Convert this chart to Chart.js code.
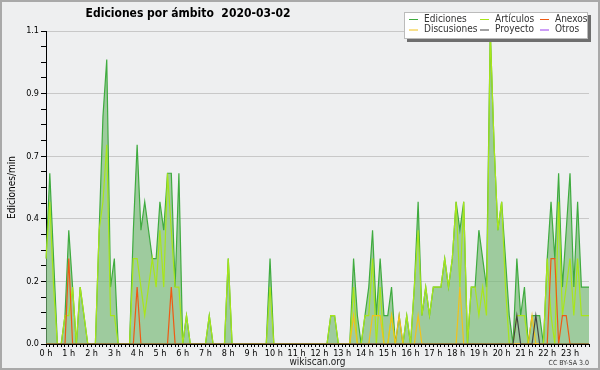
<!DOCTYPE html>
<html>
<head>
<meta charset="utf-8">
<title>Ediciones por ámbito 2020-03-02</title>
<script src="https://cdn.jsdelivr.net/npm/chart.js@4.4.1/dist/chart.umd.min.js"></script>
<style>
  body { margin: 0; background: #eeeff0; }
  canvas { display: block; }
</style>
</head>
<body>
<canvas id="myChart" width="600" height="370"></canvas>
<script>
// one point every 10 minutes, 6 per hour
const HOURS = ["0 h", "1 h", "2 h", "3 h", "4 h", "5 h", "6 h", "7 h", "8 h", "9 h", "10 h", "11 h",
  "12 h", "13 h", "14 h", "15 h", "16 h", "17 h", "18 h", "19 h", "20 h", "21 h", "22 h", "23 h"];
const POINTS_PER_HOUR = 6;

const ediciones = [
  0.3, 0.6, 0.3, 0, 0, 0.1, 0.4, 0.2, 0, 0.2, 0.1, 0,
  0, 0, 0.4, 0.8, 1.0, 0.2, 0.3, 0, 0, 0, 0, 0.4,
  0.7, 0.4, 0.5, 0.4, 0.3, 0.3, 0.5, 0.4, 0.6, 0.6, 0.2, 0.6,
  0, 0.1, 0, 0, 0, 0, 0, 0.1, 0, 0, 0, 0,
  0.3, 0, 0, 0, 0, 0, 0, 0, 0, 0, 0, 0.3,
  0, 0, 0, 0, 0, 0, 0, 0, 0, 0, 0, 0,
  0, 0, 0, 0.1, 0.1, 0, 0, 0, 0, 0.3, 0.1, 0,
  0.1, 0.2, 0.4, 0.1, 0.3, 0.1, 0.1, 0.2, 0, 0.1, 0, 0.1,
  0, 0.2, 0.5, 0.1, 0.2, 0.1, 0.2, 0.2, 0.2, 0.3, 0.2, 0.3,
  0.5, 0.4, 0.5, 0, 0.2, 0.2, 0.4, 0.3, 0.2, 1.1, 0.7, 0.4,
  0.5, 0.3, 0.1, 0, 0.3, 0.1, 0.2, 0, 0.1, 0.1, 0.1, 0,
  0.3, 0.5, 0.3, 0.6, 0.2, 0.4, 0.6, 0.2, 0.5, 0.2, 0.2, 0.2
];
const articulos = [
  0.3, 0.5, 0.2, 0, 0, 0.1, 0.1, 0.2, 0, 0.2, 0.1, 0,
  0, 0, 0.4, 0.5, 0.7, 0.1, 0.1, 0, 0, 0, 0, 0.3,
  0.3, 0.2, 0.1, 0.2, 0.3, 0.2, 0.4, 0.2, 0.6, 0.4, 0.2, 0.2,
  0, 0.1, 0, 0, 0, 0, 0, 0.1, 0, 0, 0, 0,
  0.3, 0, 0, 0, 0, 0, 0, 0, 0, 0, 0, 0.2,
  0, 0, 0, 0, 0, 0, 0, 0, 0, 0, 0, 0,
  0, 0, 0, 0.1, 0.1, 0, 0, 0, 0, 0.2, 0, 0,
  0.1, 0.1, 0.3, 0, 0.2, 0, 0, 0.1, 0, 0, 0, 0.1,
  0, 0.2, 0.4, 0.1, 0.2, 0.1, 0.2, 0.2, 0.2, 0.3, 0.2, 0.3,
  0.5, 0.2, 0.5, 0, 0.2, 0.2, 0.1, 0.2, 0.1, 1.1, 0.7, 0.4,
  0.5, 0.2, 0, 0, 0.1, 0.1, 0.1, 0, 0, 0, 0, 0,
  0.3, 0.1, 0, 0.5, 0.1, 0.2, 0.3, 0.1, 0.3, 0.1, 0.1, 0.1
];
const anexos = [
  0, 0, 0, 0, 0, 0, 0.3, 0, 0, 0, 0, 0,
  0, 0, 0, 0, 0, 0, 0, 0, 0, 0, 0, 0,
  0.2, 0, 0, 0, 0, 0, 0, 0, 0, 0.2, 0, 0,
  0, 0, 0, 0, 0, 0, 0, 0, 0, 0, 0, 0,
  0, 0, 0, 0, 0, 0, 0, 0, 0, 0, 0, 0,
  0, 0, 0, 0, 0, 0, 0, 0, 0, 0, 0, 0,
  0, 0, 0, 0, 0, 0, 0, 0, 0, 0, 0, 0,
  0, 0, 0, 0, 0, 0, 0, 0, 0, 0, 0, 0,
  0, 0, 0, 0, 0, 0, 0, 0, 0, 0, 0, 0,
  0, 0, 0, 0, 0, 0, 0, 0, 0, 0, 0, 0,
  0, 0, 0, 0, 0, 0, 0, 0, 0, 0, 0, 0,
  0, 0.3, 0.3, 0, 0.1, 0.1, 0, 0, 0, 0, 0, 0
];
const discusiones = [
  0, 0, 0, 0, 0, 0, 0, 0, 0, 0, 0, 0,
  0, 0, 0, 0, 0, 0, 0, 0, 0, 0, 0, 0,
  0, 0, 0, 0, 0, 0, 0, 0, 0, 0, 0, 0,
  0, 0, 0, 0, 0, 0, 0, 0, 0, 0, 0, 0,
  0, 0, 0, 0, 0, 0, 0, 0, 0, 0, 0, 0,
  0, 0, 0, 0, 0, 0, 0, 0, 0, 0, 0, 0,
  0, 0, 0, 0, 0, 0, 0, 0, 0, 0.1, 0, 0,
  0, 0, 0.1, 0.1, 0.1, 0, 0, 0.1, 0, 0.1, 0, 0,
  0, 0, 0.1, 0, 0, 0, 0, 0, 0, 0, 0, 0,
  0, 0.2, 0, 0, 0, 0, 0, 0, 0, 0, 0, 0,
  0, 0, 0, 0, 0, 0, 0, 0, 0.1, 0, 0, 0,
  0, 0, 0, 0, 0, 0, 0, 0, 0, 0, 0, 0
];
const proyecto = [
  0, 0, 0, 0, 0, 0, 0, 0, 0, 0, 0, 0,
  0, 0, 0, 0, 0, 0, 0, 0, 0, 0, 0, 0,
  0, 0, 0, 0, 0, 0, 0, 0, 0, 0, 0, 0,
  0, 0, 0, 0, 0, 0, 0, 0, 0, 0, 0, 0,
  0, 0, 0, 0, 0, 0, 0, 0, 0, 0, 0, 0,
  0, 0, 0, 0, 0, 0, 0, 0, 0, 0, 0, 0,
  0, 0, 0, 0, 0, 0, 0, 0, 0, 0, 0, 0,
  0, 0, 0, 0, 0, 0, 0, 0, 0, 0, 0, 0,
  0, 0, 0, 0, 0, 0, 0, 0, 0, 0, 0, 0,
  0, 0, 0, 0, 0, 0, 0, 0, 0, 0, 0, 0,
  0, 0, 0, 0, 0.1, 0, 0, 0, 0, 0.1, 0, 0,
  0, 0, 0, 0, 0, 0, 0, 0, 0, 0, 0, 0
];
const otros = [];  // no edits in "Otros" this day

const yMajorTicks = [0, 0.22, 0.44, 0.66, 0.88, 1.1];
const Y_MINOR_PER_MAJOR = 4;

const FONT = "'DejaVu Sans Condensed', 'DejaVu Sans', sans-serif";

// x labels: hour name on the first point of every hour
const labels = [];
HOURS.forEach(function (h) {
  labels.push(h);
  for (let k = 1; k < POINTS_PER_HOUR; k++) labels.push("");
});

function line(label, data, color, order) {
  return {
    label: label,
    data: data,
    borderColor: color,
    backgroundColor: color,
    borderWidth: 1.2,
    pointRadius: 0,
    tension: 0,
    fill: false,
    order: order,
  };
}

const datasets = [
  {
    label: "Ediciones",
    data: ediciones,
    borderColor: "#3fab3f",
    backgroundColor: "rgba(120,185,120,0.68)",
    borderWidth: 1.2,
    pointRadius: 0,
    tension: 0,
    fill: "origin",
    order: 6,
  },
  line("Artículos", articulos, "#a8e61a", 5),
  line("Anexos", anexos, "#ee5a14", 4),
  line("Discusiones", discusiones, "#f2c21a", 3),
  line("Proyecto", proyecto, "#444444", 2),
  line("Otros", otros, "#9a3cee", 1),
];

// legend box, title, border and credits drawn around the chart
const decor = {
  id: "decor",
  beforeDraw(chart) {
    const ctx = chart.ctx;
    ctx.save();
    ctx.fillStyle = "#eeeff0";
    ctx.fillRect(0, 0, chart.width, chart.height);
    ctx.restore();
  },
  afterDraw(chart) {
    const ctx = chart.ctx;
    ctx.save();
    // frame
    ctx.strokeStyle = "#a9a9a9";
    ctx.lineWidth = 2;
    ctx.strokeRect(1, 1, chart.width - 2, chart.height - 2);

    // title
    ctx.fillStyle = "#000";
    ctx.font = "bold 12px " + FONT;
    ctx.textAlign = "center";
    ctx.textBaseline = "middle";
    ctx.fillText("Ediciones por ámbito  2020-03-02", 188, 14);

    // legend
    const bx = 404, by = 12, bw = 184, bh = 27;
    ctx.fillStyle = "#6e6e6e";
    ctx.fillRect(bx + 3, by + 3, bw, bh);
    ctx.fillStyle = "#ffffff";
    ctx.fillRect(bx, by, bw, bh);
    ctx.strokeStyle = "#bbbbbb";
    ctx.lineWidth = 1;
    ctx.strokeRect(bx + 0.5, by + 0.5, bw - 1, bh - 1);

    const cols = [409, 480, 540];
    const rows = [19, 29.5];
    ctx.font = "10px " + FONT;
    ctx.textAlign = "left";
    chart.data.datasets.forEach(function (ds, i) {
      const col = cols[i % 3];
      const row = rows[Math.floor(i / 3)];
      ctx.strokeStyle = ds.borderColor;
      ctx.lineWidth = 1;
      ctx.beginPath();
      ctx.moveTo(col, row + 0.5);
      ctx.lineTo(col + 9, row + 0.5);
      ctx.stroke();
      ctx.fillStyle = "#333";
      ctx.fillText(ds.label, col + 15, row);
    });

    // credits
    ctx.font = "7px " + FONT;
    ctx.fillStyle = "#333";
    ctx.textAlign = "right";
    ctx.fillText("CC BY-SA 3.0", 589, 363);
    ctx.restore();
  },
};

new Chart("myChart", {
  type: "line",
  data: {
    labels: labels,
    datasets: datasets,
  },
  options: {
    responsive: false,
    animation: false,
    devicePixelRatio: 1,
    layout: { padding: { top: 31, right: 11, left: 0, bottom: 0 } },
    plugins: {
      legend: { display: false },
      tooltip: { enabled: false },
      title: { display: false },
    },
    scales: {
      x: {
        type: "category",
        offset: false,
        z: 1,
        ticks: {
          autoSkip: false,
          maxRotation: 0,
          color: "#000",
          padding: 1,
          font: { family: FONT, size: 9 },
        },
        grid: {
          drawOnChartArea: false,
          tickLength: 3,
          tickColor: "#000",
        },
        border: { color: "#000" },
        title: {
          display: true,
          text: "wikiscan.org",
          color: "#222",
          font: { family: FONT, size: 10 },
          padding: { top: 0, bottom: 2 },
        },
        afterFit: function (scale) {
          scale.height = 26;
        },
      },
      y: {
        min: 0,
        max: 1.1,
        afterBuildTicks: function (scale) {
          const ticks = [];
          for (let m = 0; m < yMajorTicks.length; m++) {
            ticks.push({ value: yMajorTicks[m] });
            if (m < yMajorTicks.length - 1) {
              const step = (yMajorTicks[m + 1] - yMajorTicks[m]) / Y_MINOR_PER_MAJOR;
              for (let k = 1; k < Y_MINOR_PER_MAJOR; k++) {
                ticks.push({ value: yMajorTicks[m] + k * step });
              }
            }
          }
          scale.ticks = ticks;
        },
        ticks: {
          autoSkip: false,
          color: "#000",
          padding: 2,
          font: { family: FONT, size: 9 },
          callback: function (value, index) {
            return index % Y_MINOR_PER_MAJOR === 0 ? value.toFixed(1) : "";
          },
        },
        grid: {
          color: function (c) {
            return c.index % Y_MINOR_PER_MAJOR === 0 ? "#c8c8c8" : "rgba(0,0,0,0)";
          },
          tickColor: "#000",
          tickLength: 5,
        },
        border: { color: "#000" },
        title: {
          display: true,
          text: "Ediciones/min",
          color: "#000",
          font: { family: FONT, size: 10 },
          padding: { top: 6, bottom: 0 },
        },
        afterFit: function (scale) {
          scale.width = 46;
        },
      },
    },
  },
  plugins: [decor],
});
</script>
</body>
</html>
